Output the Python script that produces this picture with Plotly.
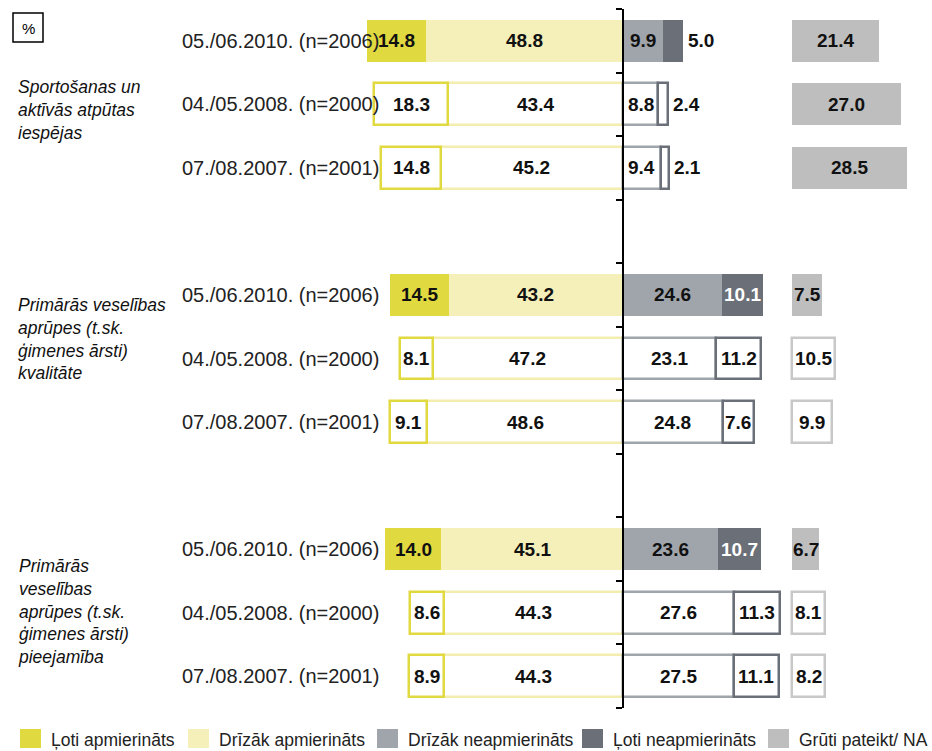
import plotly.graph_objects as go

# ---------------- data ----------------
groups = [
    "Sportošanas un<br>aktīvās atpūtas<br>iespējas",
    "Primārās veselības<br>aprūpes (t.sk.<br>ģimenes ārsti)<br>kvalitāte",
    "Primārās<br>veselības<br>aprūpes (t.sk.<br>ģimenes ārsti)<br>pieejamība",
]
waves = ["05./06.2010. (n=2006)", "04./05.2008. (n=2000)", "07./08.2007. (n=2001)"]
series = ["Ļoti apmierināts", "Drīzāk apmierināts", "Drīzāk neapmierināts",
          "Ļoti neapmierināts", "Grūti pateikt/ NA"]

loti_apm = [14.8, 18.3, 14.8, 14.5, 8.1, 9.1, 14.0, 8.6, 8.9]
drizak_apm = [48.8, 43.4, 45.2, 43.2, 47.2, 48.6, 45.1, 44.3, 44.3]
drizak_neapm = [9.9, 8.8, 9.4, 24.6, 23.1, 24.8, 23.6, 27.6, 27.5]
loti_neapm = [5.0, 2.4, 2.1, 10.1, 11.2, 7.6, 10.7, 11.3, 11.1]
gruti = [21.4, 27.0, 28.5, 7.5, 10.5, 9.9, 6.7, 8.1, 8.2]

# filled (current wave) vs outlined (earlier waves)
main_filled = [True, False, False, True, False, False, True, False, False]
na_filled = [True, True, True, True, False, False, True, False, False]

# ---------------- layout constants ----------------
W, H = 932, 751
T, B = 9, 43
PX_PER_UNIT = 4.03
ZERO_PX = 623
NA_OFFSET = 42
X_MIN = -ZERO_PX / PX_PER_UNIT
X_MAX = (W - ZERO_PX) / PX_PER_UNIT

colors = ["#E0D940", "#F5F0B9", "#A0A5AB", "#6B7078", "#BEBEBE"]
outline = ["#E0D940", "#F3EDB0", "#A0A5AB", "#6B7078", "#C8C8C8"]
FONT = "Liberation Sans, Arial, sans-serif"


def px_x(p):
    return p / W


def px_y(p):
    return (H - B - p) / (H - T - B)


ys = [g * 4 + w for g in range(len(groups)) for w in range(len(waves))]

bases = {
    0: [-(a + b) for a, b in zip(loti_apm, drizak_apm)],
    1: [-b for b in drizak_apm],
    2: [0.0] * len(ys),
    3: list(drizak_neapm),
    4: [NA_OFFSET] * len(ys),
}
values = {0: loti_apm, 1: drizak_apm, 2: drizak_neapm, 3: loti_neapm, 4: gruti}
filled = {0: main_filled, 1: main_filled, 2: main_filled, 3: main_filled, 4: na_filled}

fig = go.Figure()
annotations = []

for s in [1, 0, 2, 3, 4]:
    f = filled[s]
    fig.add_trace(go.Bar(
        orientation="h",
        y=ys,
        x=values[s],
        base=bases[s],
        width=0.66,
        name=series[s],
        marker=dict(
            color=[colors[s] if ff else "white" for ff in f],
            line=dict(color=[colors[s] if ff else outline[s] for ff in f],
                      width=[0 if ff else 2.5 for ff in f]),
        ),
        showlegend=False,
        hoverinfo="skip",
    ))
    for i, (v, b0, y, ff) in enumerate(zip(values[s], bases[s], ys, f)):
        col = "white" if (s == 3 and ff and v >= 6) else "#111111"
        if s in (2, 3) and v < 6:
            annotations.append(dict(x=b0 + v, y=y, xref="x", yref="y", text=f"<b>{v:.1f}</b>",
                                    showarrow=False, xanchor="left", xshift=3,
                                    font=dict(family=FONT, size=19, color=col)))
        else:
            annotations.append(dict(x=b0 + v / 2, y=y, xref="x", yref="y", text=f"<b>{v:.1f}</b>",
                                    showarrow=False, xanchor="center",
                                    font=dict(family=FONT, size=19, color=col)))

# wave labels
for g in range(len(groups)):
    for w in range(len(waves)):
        annotations.append(dict(x=px_x(381), y=g * 4 + w, xref="paper", yref="y",
                                text=waves[w], showarrow=False, xanchor="right",
                                font=dict(family=FONT, size=20, color="#222222")))

# group labels
group_y = [1.09, 4.69, 8.98]
for g, lab in enumerate(groups):
    annotations.append(dict(x=px_x(16), y=group_y[g], xref="paper", yref="y",
                            text=f"<i>{lab}</i>", showarrow=False, xanchor="left",
                            yanchor="middle", align="left",
                            font=dict(family=FONT, size=17.5, color="#111111")))

shapes = []
# "%" box
shapes.append(dict(type="rect", xref="paper", yref="paper",
                   x0=px_x(13), x1=px_x(43), y0=px_y(42), y1=px_y(13),
                   line=dict(color="black", width=1.5), fillcolor="white"))
annotations.append(dict(x=px_x(28), y=px_y(28), xref="paper", yref="paper", text="%",
                        showarrow=False, xanchor="center", yanchor="middle",
                        font=dict(family=FONT, size=15, color="black")))

# custom legend
leg_sq = [20, 188, 377, 582, 768]
for s in range(5):
    shapes.append(dict(type="rect", xref="paper", yref="paper",
                       x0=px_x(leg_sq[s]), x1=px_x(leg_sq[s] + 21),
                       y0=px_y(748), y1=px_y(729),
                       line=dict(width=0), fillcolor=colors[s]))
    annotations.append(dict(x=px_x(leg_sq[s] + 29), y=px_y(740), xref="paper", yref="paper",
                            text=series[s], showarrow=False, xanchor="left", yanchor="middle",
                            font=dict(family=FONT, size=17.5, color="#222222")))

fig.update_layout(
    width=W, height=H,
    margin=dict(l=0, r=0, t=T, b=B),
    paper_bgcolor="white", plot_bgcolor="white",
    barmode="overlay",
    bargap=0,
    xaxis=dict(range=[X_MIN, X_MAX], visible=False, fixedrange=True),
    yaxis=dict(range=[10.5, -0.5], anchor="free", position=-X_MIN / (X_MAX - X_MIN),
               side="left", showline=True, linecolor="black", linewidth=2,
               ticks="outside", ticklen=6, tickwidth=1.5, tickcolor="black",
               tickmode="array", tickvals=[k - 0.5 for k in range(12)],
               showticklabels=False, showgrid=False, zeroline=False, fixedrange=True),
    annotations=annotations,
    shapes=shapes,
    showlegend=False,
)

fig.write_html("out.html",
               config={"displayModeBar": False},
               post_script="document.body.style.margin='0';document.body.style.padding='0';")
